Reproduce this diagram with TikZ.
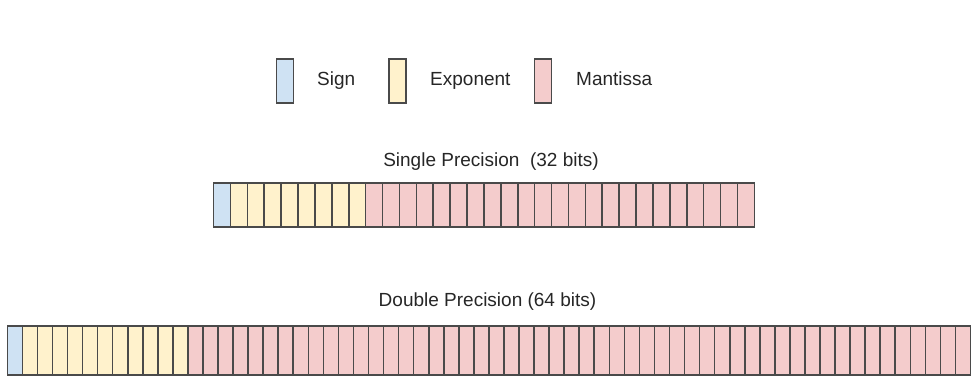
\documentclass[tikz,border=0pt]{standalone}
\usepackage{fontspec}
\setmainfont{Liberation Sans}
\definecolor{signblue}{HTML}{CFE2F3}
\definecolor{expyellow}{HTML}{FFF2CC}
\definecolor{mantpink}{HTML}{F4CCCC}
\definecolor{cellline}{HTML}{4A4A4A}
\begin{document}
\begin{tikzpicture}[x=1pt,y=-1pt,
  cell/.style={draw=cellline,line width=1.6pt,inner sep=0pt,anchor=north west},
  single/.style={cell,minimum width=16.9pt,minimum height=43.7pt},
  double/.style={cell,minimum width=15.05pt,minimum height=49pt},
  key/.style={cell,minimum width=17pt,minimum height=44pt},
  txt/.style={font=\fontsize{19}{22}\selectfont,inner sep=0pt,text=black!85}]
\useasboundingbox (0,0) rectangle (977,383);
% legend
\node[key,fill=signblue] (keysign) at (275.5,58) {};
\node[txt,anchor=base west] (keysigntxt) at (317,85) {Sign};
\node[key,fill=expyellow] (keyexp) at (388,58) {};
\node[txt,anchor=base west] (keyexptxt) at (430,85) {Exponent};
\node[key,fill=mantpink] (keymant) at (533.5,58) {};
\node[txt,anchor=base west] (keymanttxt) at (576,85) {Mantissa};
% single precision
\node[txt,anchor=base] (singletitle) at (491,166.7) {Single Precision\ \ (32 bits)};
\node[single,fill=signblue] (s0) at (212.7,182.3) {};
\foreach \i in {1,...,8}
    \node[single,fill=expyellow] (s\i) at (212.7+16.9*\i,182.3) {};
\foreach \i in {9,...,31}
    \node[single,fill=mantpink] (s\i) at (212.7+16.9*\i,182.3) {};
% double precision
\node[txt,anchor=base] (doubletitle) at (487.5,306.7) {Double Precision (64 bits)};
\node[double,fill=signblue] (d0) at (6.5,325) {};
\foreach \i in {1,...,11}
    \node[double,fill=expyellow] (d\i) at (6.5+15.05*\i,325) {};
\foreach \i in {12,...,63}
    \node[double,fill=mantpink] (d\i) at (6.5+15.05*\i,325) {};
\end{tikzpicture}
\end{document}
